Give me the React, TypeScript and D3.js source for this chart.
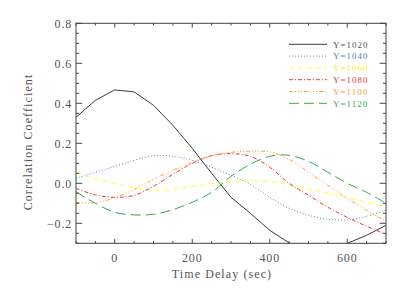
import * as d3 from 'd3';

// sampled every 50 sec
const delays = [-100, -50, 0, 50, 100, 150, 200, 250, 300, 350, 400, 450, 500, 550, 600, 650, 700];

const y1020 = [0.33, 0.415, 0.467, 0.457, 0.39, 0.29, 0.175, 0.05, -0.07, -0.15, -0.235, -0.298, -0.34, -0.35, -0.3, -0.26, -0.21];
const y1040 = [0.025, 0.055, 0.085, 0.115, 0.138, 0.135, 0.115, 0.08, 0.04, -0.005, -0.07, -0.125, -0.16, -0.18, -0.183, -0.165, -0.133];
const y1060 = [0.05, 0.025, 0.0, -0.022, -0.035, -0.03, -0.015, -0.002, 0.007, 0.012, 0.008, -0.008, -0.03, -0.05, -0.072, -0.095, -0.118];
const y1080 = [-0.025, -0.058, -0.07, -0.06, -0.015, 0.045, 0.1, 0.138, 0.148, 0.135, 0.08, 0.0, -0.06, -0.12, -0.17, -0.215, -0.255];
const y1100 = [-0.095, -0.097, -0.072, -0.03, 0.02, 0.065, 0.105, 0.138, 0.155, 0.16, 0.157, 0.12, 0.055, -0.01, -0.075, -0.135, -0.19];
const y1120 = [-0.042, -0.1, -0.145, -0.158, -0.155, -0.132, -0.095, -0.045, 0.035, 0.095, 0.135, 0.14, 0.11, 0.055, 0.0, -0.045, -0.1];

const labels = ['Y=1020', 'Y=1040', 'Y=1060', 'Y=1080', 'Y=1100', 'Y=1120'];
const xTicks = [0, 200, 400, 600];
const yTicks = [-0.2, 0.0, 0.2, 0.4, 0.6, 0.8];

const series = [
  { name: labels[0], vals: y1020, color: '#3a3a3a', text: '#555', dash: null, smooth: false },
  { name: labels[1], vals: y1040, color: '#5a86b8', text: '#5a7fae', dash: '1,2', smooth: true },
  { name: labels[2], vals: y1060, color: '#ffff30', text: '#f4f430', dash: '5,4', smooth: true },
  { name: labels[3], vals: y1080, color: '#e23b3b', text: '#e04040', dash: '4,2,1,2', smooth: true },
  { name: labels[4], vals: y1100, color: '#ffa13a', text: '#f59a3a', dash: '4,2,1,2,1,2,1,2', smooth: true },
  { name: labels[5], vals: y1120, color: '#33a853', text: '#3aa655', dash: '10,5', smooth: true },
];

const W = 409, H = 292;
const L = 76, R = 386, T = 23.3, B = 243.3;
const serif = '"Liberation Serif", "DejaVu Serif", serif';

export default function App() {
  const x = d3.scaleLinear().domain([-100, 700]).range([L, R]);
  const y = d3.scaleLinear().domain([-0.3, 0.8]).range([B, T]);

  const xMinor = d3.range(-100, 701, 50);
  const yMinor = d3.range(-6, 17).map(i => i * 0.05);
  const xLen = 0.02 * (B - T), yLen = 0.02 * (R - L);

  const lineFor = (s: typeof series[0]) =>
    d3.line<number>()
      .x((_, i) => x(delays[i]))
      .y(d => y(d))
      .curve(s.smooth ? d3.curveCatmullRom : d3.curveLinear)(s.vals) || '';

  const axisColor = '#444';

  return (
    <svg width={W} height={H} style={{ position: 'absolute', left: 0, top: 0, background: '#fff' }}>
      <defs>
        <clipPath id="plot">
          <rect x={L} y={T} width={R - L} height={B - T} />
        </clipPath>
      </defs>

      <g clipPath="url(#plot)">
        {series.map(s => (
          <path key={s.name} d={lineFor(s)} fill="none" stroke={s.color} strokeWidth={1}
            strokeDasharray={s.dash || undefined} />
        ))}
      </g>

      {/* frame */}
      <rect x={L} y={T} width={R - L} height={B - T} fill="none" stroke={axisColor} strokeWidth={1} />

      {/* x ticks, bottom and top */}
      {xMinor.map(v => {
        const major = v % 200 === 0;
        const len = major ? xLen : xLen / 2;
        return (
          <g key={'x' + v} stroke={axisColor} strokeWidth={1}>
            <line x1={x(v)} x2={x(v)} y1={B} y2={B - len} />
            <line x1={x(v)} x2={x(v)} y1={T} y2={T + len} />
          </g>
        );
      })}
      {/* y ticks, left and right */}
      {yMinor.map((v, i) => {
        const major = (i + 2) % 4 === 0;
        const len = major ? yLen : yLen / 2;
        return (
          <g key={'y' + i} stroke={axisColor} strokeWidth={1}>
            <line x1={L} x2={L + len} y1={y(v)} y2={y(v)} />
            <line x1={R} x2={R - len} y1={y(v)} y2={y(v)} />
          </g>
        );
      })}

      {/* tick labels */}
      {xTicks.map(v => (
        <text key={'xl' + v} x={x(v)} y={262} textAnchor="middle" fontFamily={serif}
          fontSize={12} letterSpacing={0.8} fill="#555">{String(v)}</text>
      ))}
      {yTicks.map(v => (
        <text key={'yl' + v} x={L - 4} y={y(v) + 5} textAnchor="end" fontFamily={serif}
          fontSize={12} letterSpacing={0.8} fill="#555">{v < 0 ? '\u2212' + Math.abs(v).toFixed(1) : v.toFixed(1)}</text>
      ))}

      {/* axis titles */}
      <text x={222} y={277.5} textAnchor="middle" fontFamily={serif} fontSize={12}
        letterSpacing={1.1} fill="#555">Time Delay (sec)</text>
      <text transform={`translate(32,${142}) rotate(-90)`} textAnchor="middle" fontFamily={serif}
        fontSize={12} letterSpacing={1.1} fill="#555">Correlation Coefficient</text>

      {/* legend */}
      {series.map((s, i) => {
        const ly = 44.3 + i * 11.8;
        return (
          <g key={'lg' + s.name}>
            <line x1={289} x2={327} y1={ly} y2={ly} stroke={s.color} strokeWidth={1}
              strokeDasharray={s.dash || undefined} />
            <text x={333} y={ly + 3.2} fontFamily={serif} fontSize={9} letterSpacing={1}
              fill={s.text}>{s.name}</text>
          </g>
        );
      })}
    </svg>
  );
}
